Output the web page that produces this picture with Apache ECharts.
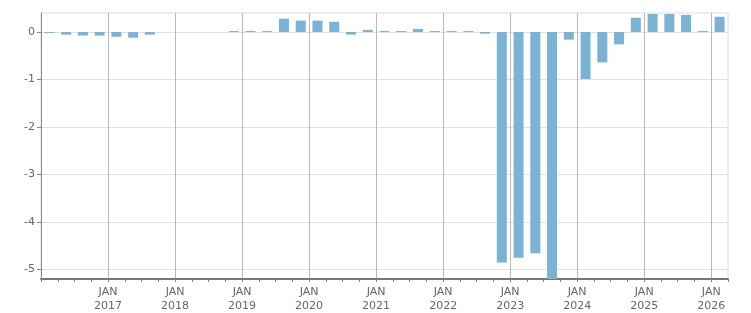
<!DOCTYPE html>
<html><head><meta charset="utf-8">
<script src="https://cdn.jsdelivr.net/npm/echarts@6/dist/echarts.min.js"></script>
<style>html,body{margin:0;padding:0;background:#fff}#c{width:751px;height:313px}</style>
</head><body><div id="c"></div>
<script>
// Quarter labels (2016Q1 .. 2026Q1)
const quarters = [];
for (let y = 2016; y <= 2026; y++) for (let q = 1; q <= 4; q++) if (!(y === 2026 && q > 1)) quarters.push(y + 'Q' + q);
const values = [
  -0.02, -0.055, -0.075, -0.075, -0.10, -0.12, -0.055, null,
  null, null, null, 0.02, 0.02, 0.02, 0.28, 0.24,
  0.24, 0.215, -0.055, 0.045, 0.02, 0.02, 0.065, 0.02,
  0.02, 0.02, -0.035, -4.85, -4.75, -4.66, -5.4, -0.16,
  -0.99, -0.64, -0.26, 0.30, 0.38, 0.38, 0.36, 0.02,
  0.32
];
const yTicks = [-5, -4, -3, -2, -1, 0];
const xYears = [2016, 2017, 2018, 2019, 2020, 2021, 2022, 2023, 2024, 2025, 2026];

const data = quarters.map((q, i) => {
  const yr = parseInt(q.slice(0, 4)), qq = parseInt(q.slice(5));
  return [yr + (qq - 0.5) / 4, values[i]];
});

const chart = echarts.init(document.getElementById('c'));
chart.setOption({
  animation: false,
  grid: { left: 41, right: 23, top: 13, bottom: 32, show: true, borderColor: '#dddddd', borderWidth: 1 },
  xAxis: [{
    type: 'value', min: 2016, max: 2026.25,
    axisLine: { show: true, onZero: false, lineStyle: { color: '#777', width: 2 } },
    axisTick: { show: true, length: 3, customValues: xYears, lineStyle: { color: '#aaa' } },
    splitLine: { show: true, lineStyle: { color: '#b8b8b8', width: 1 } },
    axisLabel: {
      color: '#666', fontFamily: 'DejaVu Sans', fontSize: 11, lineHeight: 14, margin: 6,
      customValues: xYears,
      formatter: v => v > 2016 ? 'JAN\n' + v : ''
    }
  }, {
    type: 'value', min: 2016, max: 2026.25, interval: 0.25, position: 'bottom',
    axisLine: { show: false, onZero: false },
    axisTick: { show: true, length: 3, lineStyle: { color: '#888' } },
    splitLine: { show: false },
    axisLabel: { show: false }
  }],
  yAxis: {
    type: 'value', min: -5.2, max: 0.4,
    axisLine: { show: true, lineStyle: { color: '#888', width: 1 } },
    axisTick: { show: true, length: 4, customValues: yTicks, lineStyle: { color: '#888' } },
    splitLine: { show: true, lineStyle: { color: '#e0e0e0', width: 1 } },
    axisLabel: {
      color: '#666', fontFamily: 'DejaVu Sans', fontSize: 11, margin: 6,
      customValues: yTicks,
      formatter: v => String(v)
    }
  },
  series: [{
    type: 'bar', data: data, barWidth: 10, clip: true, xAxisIndex: 0,
    itemStyle: { color: '#7ab3d5' }
  }]
});
</script></body></html>
